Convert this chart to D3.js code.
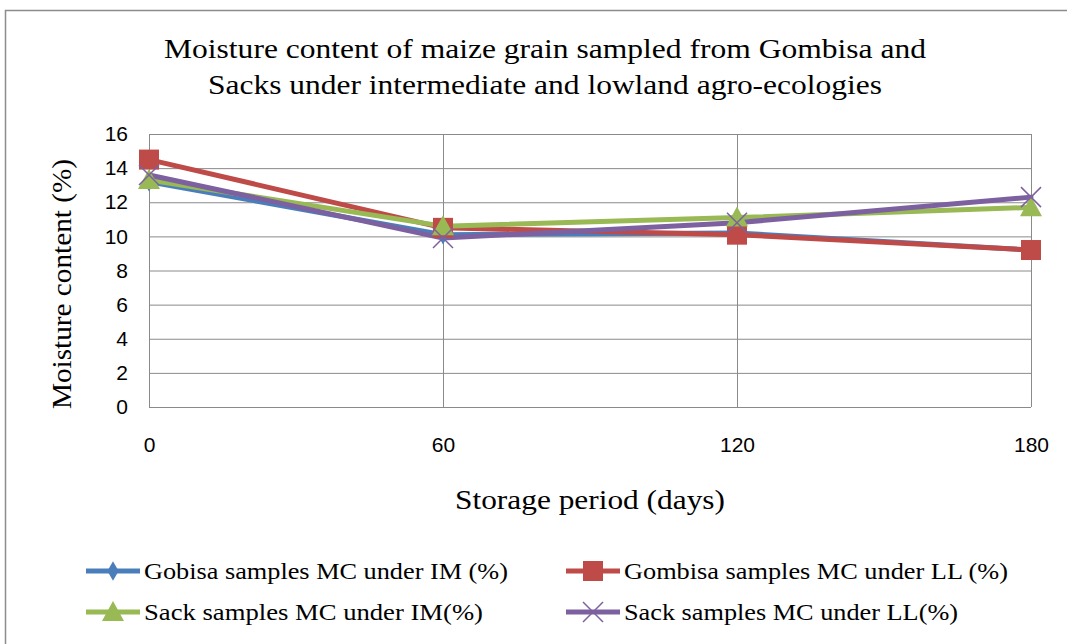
<!DOCTYPE html>
<html><head><meta charset="utf-8">
<script src="https://cdn.jsdelivr.net/npm/d3@7"></script>
<style>body{margin:0;background:#fff;} svg{display:block;}
.serif{font-family:"Liberation Serif","Times New Roman",serif;}
.tick text{font-family:"Liberation Sans",Arial,sans-serif;font-size:21px;fill:#000;}
</style>
</head><body>
<script>
const days = [0, 60, 120, 180];
const yTicks = [0, 2, 4, 6, 8, 10, 12, 14, 16];
const seriesNames = [
  "Gobisa samples MC under IM (%)",
  "Gombisa samples MC under LL  (%)",
  "Sack samples MC under IM(%)",
  "Sack samples MC under LL(%)"
];
const gobisaIM = [13.2, 10.1, 10.2, 9.2];
const gombisaLL = [14.5, 10.5, 10.1, 9.2];
const sackIM = [13.3, 10.6, 11.1, 11.7];
const sackLL = [13.6, 9.9, 10.8, 12.3];
const colors = ["#4A7EBB", "#BE4B48", "#98B954", "#7D60A0"];
const markers = ["diamond", "square", "triangle", "x"];
const titleLines = ["Moisture content of maize grain sampled from Gombisa and", "Sacks under intermediate and lowland agro-ecologies"];

const W = 1067, H = 644;
const svg = d3.select("body").append("svg").attr("width", W).attr("height", H);
svg.append("rect").attr("x", 5.5).attr("y", 10.5).attr("width", W + 10).attr("height", H + 10)
  .attr("fill", "#fff").attr("stroke", "#8c8c8c").attr("stroke-width", 1.5);

const x = d3.scalePoint().domain(days).range([149, 1031]);
const y = d3.scaleLinear().domain([0, 16]).range([407, 134]);

// gridlines
const g = svg.append("g");
g.selectAll("line.h").data(yTicks).join("line")
  .attr("x1", 149).attr("x2", 1031).attr("y1", d => y(d) + 0.5).attr("y2", d => y(d) + 0.5)
  .attr("stroke", "#8a8a8a").attr("stroke-width", 1);
g.selectAll("line.v").data(days).join("line")
  .attr("x1", d => x(d) + 0.5).attr("x2", d => x(d) + 0.5).attr("y1", 134).attr("y2", 407)
  .attr("stroke", "#8a8a8a").attr("stroke-width", 1);

// axes labels
const yAxis = d3.axisLeft(y).tickValues(yTicks).tickSize(0).tickPadding(0);
const ya = svg.append("g").attr("transform", "translate(128,0)").call(yAxis)
  .attr("font-size", null).attr("font-family", null);
ya.select(".domain").remove();

const xAxis = d3.axisBottom(x).tickSize(0).tickPadding(0);
const xa = svg.append("g").attr("transform", "translate(0,437)").call(xAxis)
  .attr("font-size", null).attr("font-family", null);
xa.select(".domain").remove();

// titles
svg.selectAll("text.title").data(titleLines).join("text").attr("class", "serif")
  .attr("x", 545).attr("y", (d, i) => 58 + i * 36).attr("text-anchor", "middle")
  .style("font-size", "28px")
  .attr("textLength", (d, i) => i === 0 ? 762 : 674).attr("lengthAdjust", "spacingAndGlyphs")
  .text(d => d);
svg.append("text").attr("class", "serif").attr("transform", "translate(71,284) rotate(-90)").attr("text-anchor", "middle")
  .style("font-size", "27px")
  .attr("textLength", 250).attr("lengthAdjust", "spacingAndGlyphs")
  .text("Moisture content (%)");
svg.append("text").attr("class", "serif").attr("x", 590).attr("y", 509).attr("text-anchor", "middle")
  .style("font-size", "27px")
  .attr("textLength", 270).attr("lengthAdjust", "spacingAndGlyphs")
  .text("Storage period (days)");

// series
const data = [gobisaIM, gombisaLL, sackIM, sackLL];
const line = d3.line().x((d, i) => x(days[i])).y(d => y(d));
svg.selectAll("path.series").data(data).join("path")
  .attr("d", line).attr("fill", "none").attr("stroke", (d, i) => colors[i])
  .attr("stroke-width", 5).attr("stroke-linejoin", "round").attr("stroke-linecap", "round");

function drawMarker(sel, type, color, cx, cy) {
  if (type === "diamond") {
    sel.append("path").attr("d", d3.symbol(d3.symbolDiamond, 110)()).attr("transform", `translate(${cx},${cy})`).attr("fill", color);
  } else if (type === "square") {
    sel.append("rect").attr("x", cx - 10).attr("y", cy - 10).attr("width", 20).attr("height", 20).attr("fill", color);
  } else if (type === "triangle") {
    sel.append("path").attr("d", `M${cx},${cy - 11}L${cx + 11},${cy + 9}L${cx - 11},${cy + 9}Z`).attr("fill", color);
  } else {
    sel.append("path").attr("d", `M${cx - 10},${cy - 10}L${cx + 10},${cy + 10}M${cx - 10},${cy + 10}L${cx + 10},${cy - 10}`)
      .attr("stroke", color).attr("stroke-width", 1.5).attr("fill", "none");
  }
}
const mg = svg.append("g");
data.forEach((vals, si) => {
  vals.forEach((v, i) => drawMarker(mg, markers[si], colors[si], x(days[i]), y(v)));
});

// legend
const legPos = [[86, 571], [566, 571], [86, 612], [566, 612]];
const legTextLen = [364, 384, 339, 334];
seriesNames.forEach((name, i) => {
  const [lx, ly] = legPos[i];
  svg.append("line").attr("x1", lx).attr("x2", lx + 54).attr("y1", ly).attr("y2", ly)
    .attr("stroke", colors[i]).attr("stroke-width", 5);
  drawMarker(svg, markers[i], colors[i], lx + 27, ly);
  svg.append("text").attr("class", "serif").attr("x", lx + 58).attr("y", ly + 8)
    .style("font-size", "24px")
    .attr("textLength", legTextLen[i]).attr("lengthAdjust", "spacingAndGlyphs")
    .text(name);
});
</script>
</body></html>
